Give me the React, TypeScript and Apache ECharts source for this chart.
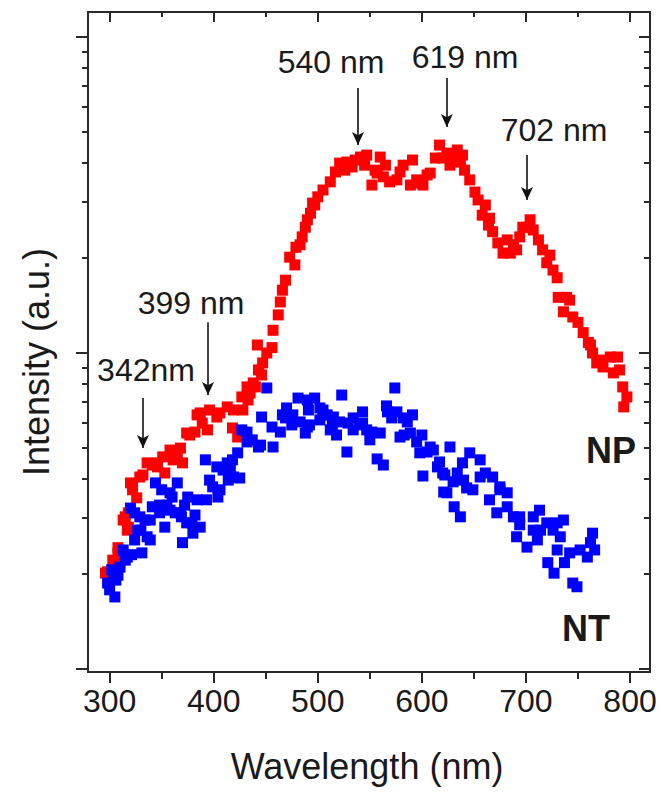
import React, { useEffect, useRef } from 'react';
import * as echarts from 'echarts';

// Photoluminescence-type spectra, intensity (a.u., log scale) vs wavelength (nm)
const npData: [number, number][] = [
  [296, 2.01], [298, 2.03], [303, 2.21], [308, 2.42], [308, 2.33], [310, 2.21], [313, 2.96], [315, 3.03],
  [317, 2.75], [318, 2.81], [318, 3.12], [320, 3.88], [322, 3.77], [322, 3.69], [326, 3.48], [329, 4.05],
  [332, 4.11], [336, 4.49], [341, 4.42], [346, 4.36], [346, 4.49], [351, 4.69], [353, 4.17], [358, 4.93],
  [361, 4.59], [365, 4.83], [368, 5.0], [370, 4.49], [374, 5.58], [377, 5.5], [382, 5.62], [384, 6.37],
  [387, 6.46], [389, 6.0], [394, 5.71], [396, 6.6], [403, 6.27], [406, 6.46], [413, 6.75], [418, 5.79],
  [419, 6.6], [423, 5.42], [427, 7.26], [428, 6.6], [432, 7.81], [433, 7.1], [435, 7.47], [438, 8.04],
  [440, 7.81], [442, 10.6], [443, 8.84], [446, 8.52], [447, 9.3], [451, 10.0], [456, 10.4], [457, 11.8],
  [462, 13.2], [464, 14.5], [466, 15.8], [469, 17.0], [473, 20.1], [478, 19.0], [479, 21.6], [483, 22.0],
  [485, 23.3], [488, 25.0], [490, 26.4], [493, 27.7], [495, 29.8], [497, 29.4], [500, 31.2], [505, 32.8],
  [512, 34.8], [517, 37.4], [521, 39.9], [526, 37.9], [528, 40.2], [533, 38.8], [536, 40.8], [541, 41.7],
  [545, 39.3], [547, 42.3], [552, 34.0], [555, 37.9], [557, 37.1], [560, 41.7], [563, 36.1], [565, 39.3],
  [569, 34.8], [576, 35.3], [579, 37.4], [582, 39.3], [589, 34.0], [591, 40.8], [595, 35.3], [598, 34.5],
  [601, 34.0], [605, 36.6], [608, 37.1], [613, 41.4], [617, 45.5], [620, 41.4], [624, 42.9], [627, 39.3],
  [630, 40.8], [634, 43.9], [637, 40.2], [639, 42.3], [641, 37.9], [646, 35.3], [651, 32.3], [654, 30.5],
  [658, 27.3], [661, 29.4], [664, 25.4], [665, 26.7], [668, 24.2], [673, 22.3], [678, 20.7], [682, 22.8],
  [685, 20.7], [688, 22.0], [691, 21.2], [694, 23.3], [697, 25.0], [701, 25.0], [704, 26.4], [707, 24.5],
  [712, 22.8], [716, 21.2], [720, 19.3], [723, 20.4], [726, 18.3], [730, 17.3], [731, 15.0], [736, 13.5],
  [739, 15.0], [742, 14.7], [745, 13.0], [750, 12.5], [755, 11.6], [760, 10.8], [762, 10.6], [764, 10.0],
  [768, 9.3], [771, 9.5], [774, 9.03], [781, 9.71], [784, 8.65], [788, 9.71], [790, 8.84], [793, 7.81],
  [794, 6.75], [797, 7.26],
];

const ntData: [number, number][] = [
  [298, 1.87], [300, 1.78], [302, 2.06], [304, 2.01], [305, 1.69], [306, 1.91], [308, 1.98], [310, 2.1],
  [313, 2.38], [315, 2.21], [317, 2.26], [320, 3.23], [321, 2.3], [324, 3.12], [324, 2.56], [327, 2.75],
  [329, 3.03], [330, 2.75], [331, 2.33], [334, 2.96], [336, 2.62], [339, 2.56], [339, 2.96], [341, 3.26],
  [344, 3.88], [348, 3.12], [348, 3.3], [350, 3.69], [353, 2.81], [355, 3.3], [358, 3.61], [358, 3.18],
  [360, 3.5], [363, 3.12], [365, 3.88], [368, 3.12], [369, 3.03], [370, 2.51], [372, 3.3], [374, 2.9],
  [375, 3.5], [379, 2.9], [380, 2.69], [382, 3.07], [384, 3.43], [387, 2.81], [392, 4.59], [393, 3.43],
  [396, 3.96], [399, 3.77], [403, 4.36], [404, 3.5], [406, 3.69], [409, 4.26], [413, 4.49], [414, 3.96],
  [416, 4.26], [418, 4.59], [419, 4.05], [423, 4.83], [425, 4.02], [427, 5.71], [432, 5.23], [432, 5.62],
  [437, 5.31], [443, 5.04], [445, 5.11], [446, 6.27], [451, 7.75], [456, 5.83], [457, 5.04], [464, 5.62],
  [466, 6.37], [469, 6.23], [470, 6.7], [475, 5.92], [476, 6.37], [481, 7.2], [483, 6.05], [488, 5.58],
  [490, 7.1], [490, 5.83], [491, 6.6], [492, 5.92], [497, 7.2], [502, 6.7], [502, 6.14], [505, 6.6],
  [505, 6.37], [509, 6.37], [512, 5.71], [514, 5.92], [515, 6.27], [518, 5.5], [521, 6.05], [523, 7.36],
  [528, 4.86], [529, 6.0], [534, 6.23], [534, 5.71], [540, 5.92], [543, 6.51], [543, 6.0], [547, 5.71],
  [550, 5.31], [552, 5.62], [557, 4.62], [560, 5.58], [563, 4.42], [566, 6.8], [567, 6.51], [571, 6.23],
  [574, 7.75], [576, 6.51], [579, 5.42], [582, 6.23], [583, 5.5], [586, 6.05], [589, 5.58], [591, 6.37],
  [595, 5.23], [598, 4.83], [600, 5.5], [601, 4.08], [605, 4.86], [608, 5.04], [611, 4.93], [615, 4.36],
  [617, 4.52], [620, 4.17], [621, 3.63], [622, 4.11], [624, 3.61], [627, 5.04], [630, 3.91], [631, 3.26],
  [634, 4.17], [637, 3.03], [639, 4.49], [640, 3.96], [643, 3.74], [646, 4.83], [649, 3.69], [656, 4.59],
  [656, 4.05], [661, 4.17], [665, 3.43], [668, 4.05], [672, 3.12], [675, 3.77], [675, 3.69], [682, 3.26],
  [682, 3.61], [688, 3.03], [691, 2.62], [694, 2.86], [694, 3.03], [701, 2.43], [707, 2.75], [707, 3.03],
  [711, 2.56], [713, 3.18], [714, 2.75], [720, 2.9], [721, 2.17], [726, 2.75], [727, 2.01], [730, 2.38],
  [730, 2.9], [733, 2.62], [736, 2.96], [737, 2.17], [742, 2.33], [745, 1.87], [749, 1.82], [752, 2.38],
  [759, 2.26], [762, 2.51], [764, 2.69], [766, 2.38],
];

// Peak markers: wavelength of the arrow, and intensity range it spans
const peakArrows = [
  { label: '342nm', wavelength: 332, top: 7.2, bottom: 5.0 },
  { label: '399 nm', wavelength: 394.5, top: 12.5, bottom: 7.36 },
  { label: '540 nm', wavelength: 538.6, top: 69.0, bottom: 45.5 },
  { label: '619 nm', wavelength: 624, top: 74.2, bottom: 51.9 },
  { label: '702 nm', wavelength: 701, top: 42.3, bottom: 30.5 },
];

const xMajorTicks = [300, 400, 500, 600, 700, 800];
const xMinorTicks = [350, 450, 550, 650, 750];
const yMajorTicks = [1, 10, 100];
const yMinorTicks = [2, 3, 4, 5, 6, 7, 8, 9, 20, 30, 40, 50, 60, 70, 80, 90];

const X_MIN = 279.2;
const X_MAX = 819.2;
const Y_MIN = 0.978;
const Y_MAX = 120;

const FONT = '"Liberation Sans", Arial, Helvetica, sans-serif';
const INK = '#2a2a2a';

function xAxis(position: string, ticks: number[], len: number, inside: boolean, labels?: number[]) {
  return {
    type: 'value',
    min: X_MIN,
    max: X_MAX,
    position,
    axisLine: { show: true, onZero: false, lineStyle: { color: INK, width: 2 } },
    axisTick: { show: true, inside, length: len, customValues: ticks, lineStyle: { color: INK, width: 2 } },
    axisLabel: labels
      ? { show: true, customValues: labels, fontSize: 32, color: '#1a1a1a', fontFamily: FONT, margin: 13 }
      : { show: false },
    splitLine: { show: false },
  };
}

function yAxis(position: string, ticks: number[], len: number, inside: boolean) {
  return {
    type: 'log',
    logBase: 10,
    min: Y_MIN,
    max: Y_MAX,
    position,
    axisLine: { show: true, onZero: false, lineStyle: { color: INK, width: 2 } },
    axisTick: { show: true, inside, length: len, customValues: ticks, lineStyle: { color: INK, width: 2 } },
    axisLabel: { show: false },
    splitLine: { show: false },
  };
}

export default function App() {
  const ref = useRef<HTMLDivElement>(null);

  useEffect(() => {
    if (!ref.current) return;
    const chart = echarts.init(ref.current, null, { renderer: 'svg' });

    const text = (t: string, x: number, y: number, size: number, bold = false, rotation = 0) => ({
      type: 'text',
      x,
      y,
      rotation,
      silent: true,
      style: {
        text: t,
        fontSize: size,
        fontFamily: FONT,
        fontWeight: bold ? 'bold' : 'normal',
        fill: '#1a1a1a',
        textAlign: 'center',
        textVerticalAlign: 'middle',
      },
    });

    chart.setOption({
      animation: false,
      backgroundColor: '#ffffff',
      grid: { left: 88, top: 12, right: 13, bottom: 120, containLabel: false },
      xAxis: [
        xAxis('bottom', xMajorTicks, 11, false, xMajorTicks),
        xAxis('bottom', xMinorTicks, 7, false),
        xAxis('top', xMajorTicks, 10, true),
        xAxis('top', xMinorTicks, 5, true),
      ],
      yAxis: [
        yAxis('left', yMajorTicks, 12, false),
        yAxis('left', yMinorTicks, 6, false),
        yAxis('right', yMajorTicks, 11, true),
        yAxis('right', yMinorTicks, 6, true),
      ],
      series: [
        {
          type: 'scatter',
          name: 'NP',
          xAxisIndex: 0,
          yAxisIndex: 0,
          data: npData,
          symbol: 'rect',
          symbolSize: 11,
          itemStyle: { color: '#ff0000', opacity: 1 },
          markLine: {
            silent: true,
            symbol: ['none', 'arrow'],
            symbolSize: [9, 13],
            label: { show: false },
            lineStyle: { color: '#111111', width: 1.6, type: 'solid', opacity: 1 },
            data: peakArrows.map((a) => [
              { coord: [a.wavelength, a.top] },
              { coord: [a.wavelength, a.bottom] },
            ]),
          },
        },
        {
          type: 'scatter',
          name: 'NT',
          xAxisIndex: 0,
          yAxisIndex: 0,
          data: ntData,
          symbol: 'rect',
          symbolSize: 11,
          itemStyle: { color: '#0000ff', opacity: 1 },
        },
      ],
      graphic: [
        text(peakArrows[0].label, 146, 370, 32),
        text(peakArrows[1].label, 191, 303, 32),
        text(peakArrows[2].label, 331, 62, 32),
        text(peakArrows[3].label, 465, 57, 32),
        text(peakArrows[4].label, 554, 130, 32),
        text('NP', 611, 450, 36, true),
        text('NT', 586, 628, 36, true),
        text('Intensity (a.u.)', 36, 362, 36, false, Math.PI / 2),
        text('Wavelength (nm)', 367, 766, 36),
      ],
    });

    return () => chart.dispose();
  }, []);

  return (
    <div
      ref={ref}
      style={{ position: 'fixed', left: 0, top: 0, width: 663, height: 792, background: '#fff' }}
    />
  );
}
